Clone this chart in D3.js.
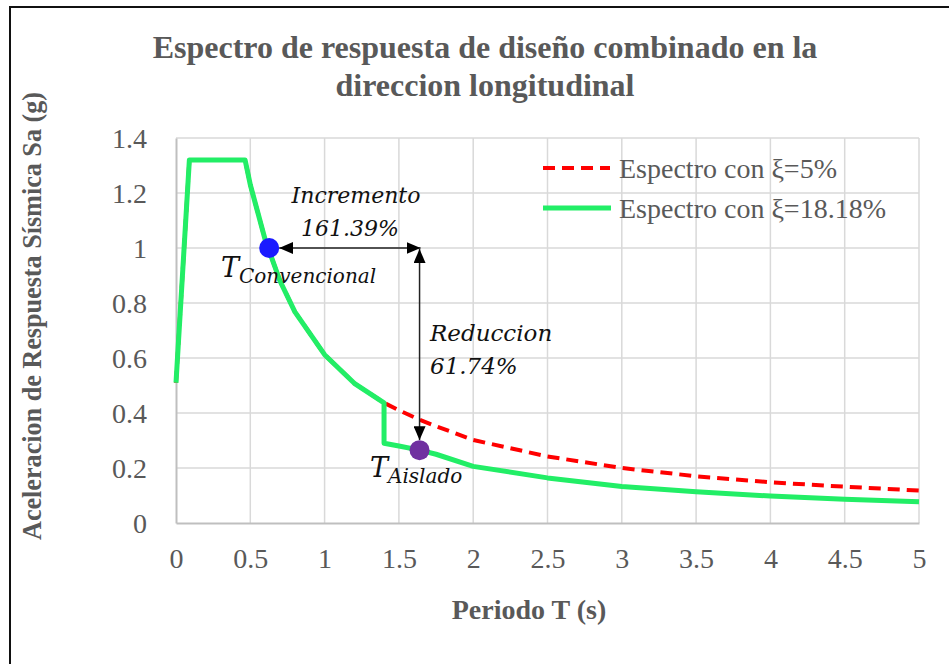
<!DOCTYPE html>
<html>
<head>
<meta charset="utf-8">
<script src="https://cdn.jsdelivr.net/npm/d3@7"></script>
<style>
  html, body { margin: 0; padding: 0; background: #fff; }
  svg { display: block; }
</style>
</head>
<body>
<svg id="chart" width="949" height="664"></svg>
<script>
// Periods (s) and spectral accelerations (g)
const periodsDamped = [0, 0.09, 0.465, 0.5, 0.6, 0.7, 0.8, 1.0, 1.2, 1.4, 1.4, 1.5, 1.64, 1.75, 2.0, 2.5, 3.0, 3.5, 4.0, 4.5, 5.0];
const saDamped = [0.51, 1.32, 1.32, 1.23, 1.03, 0.88, 0.768, 0.612, 0.508, 0.437, 0.29, 0.28, 0.265, 0.25, 0.206, 0.164, 0.133, 0.114, 0.098, 0.086, 0.077];

const periods5 = [0, 0.09, 0.465, 0.5, 0.6, 0.7, 0.8, 1.0, 1.2, 1.4, 1.5, 1.64, 1.75, 2.0, 2.5, 3.0, 3.5, 4.0, 4.5, 5.0];
const sa5 = [0.51, 1.32, 1.32, 1.23, 1.03, 0.88, 0.768, 0.612, 0.508, 0.437, 0.41, 0.375, 0.352, 0.302, 0.242, 0.2, 0.17, 0.148, 0.132, 0.118];

const xTicks = [0, 0.5, 1, 1.5, 2, 2.5, 3, 3.5, 4, 4.5, 5];
const yTicks = [0, 0.2, 0.4, 0.6, 0.8, 1.0, 1.2, 1.4];

const seriesNames = ["Espectro con ξ=5%", "Espectro con ξ=18.18%"];
const titleLines = ["Espectro de respuesta de diseño combinado en la", "direccion longitudinal"];

// Characteristic periods: conventional (fixed base) and isolated structure
const tConv = [0.627, 1.0];
const tIso = [1.639, 0.265];

const svg = d3.select("#chart");
const grey = "#595959";
const serif = "'Liberation Serif', 'Times New Roman', serif";
const mathItalic = "'DejaVu Serif', serif";

const x = d3.scaleLinear().domain([0, 5]).range([176, 919]);
const y = d3.scaleLinear().domain([0, 1.4]).range([523, 138]);

// Outer frame
svg.append("rect").attr("x", 10).attr("y", 7).attr("width", 960).attr("height", 680)
  .attr("fill", "none").attr("stroke", "#111").attr("stroke-width", 2);

// Title
svg.append("text").attr("x", 485).attr("y", 0)
  .attr("text-anchor", "middle").attr("font-family", serif).attr("font-weight", "bold")
  .attr("font-size", 32).attr("fill", grey)
  .selectAll("tspan").data(titleLines).join("tspan")
  .attr("x", 485).attr("y", (d, i) => 58 + i * 38).text(d => d);

// Grid
svg.append("g").selectAll("line").data(xTicks.slice(1)).join("line")
  .attr("x1", d => x(d)).attr("x2", d => x(d)).attr("y1", y(1.4)).attr("y2", y(0))
  .attr("stroke", "#d9d9d9").attr("stroke-width", 1.5);
svg.append("g").selectAll("line").data(yTicks.slice(1)).join("line")
  .attr("x1", x(0)).attr("x2", x(5)).attr("y1", d => y(d)).attr("y2", d => y(d))
  .attr("stroke", "#d9d9d9").attr("stroke-width", 1.5);

// Axes
const xAxis = svg.append("g").attr("transform", `translate(0,${y(0)})`)
  .call(d3.axisBottom(x).tickValues(xTicks).tickSize(0).tickPadding(25).tickFormat(d3.format("")));
const yAxis = svg.append("g").attr("transform", `translate(${x(0)},0)`)
  .call(d3.axisLeft(y).tickValues(yTicks).tickSize(0).tickPadding(29).tickFormat(d3.format("")));
[xAxis, yAxis].forEach(g => {
  g.attr("font-family", serif);
  g.select(".domain").attr("stroke", "#bfbfbf").attr("stroke-width", 2);
  g.selectAll("text").attr("font-family", serif).attr("font-size", 28).attr("fill", grey);
});
xAxis.selectAll("text").attr("dy", "0.71em");
yAxis.selectAll("text").attr("dy", "0.34em");

// Axis titles
svg.append("text").attr("x", 529).attr("y", 619).attr("text-anchor", "middle")
  .attr("font-family", serif).attr("font-weight", "bold").attr("font-size", 28).attr("fill", grey)
  .text("Periodo T (s)");
svg.append("text").attr("transform", "translate(41,316) rotate(-90)").attr("text-anchor", "middle")
  .attr("font-family", serif).attr("font-weight", "bold").attr("font-size", 27).attr("fill", grey)
  .attr("textLength", 448).attr("lengthAdjust", "spacingAndGlyphs")
  .text("Aceleracion de Respuesta Sísmica Sa (g)");

// Spectra
const line = d3.line().x(d => x(d[0])).y(d => y(d[1]));
svg.append("path").datum(d3.zip(periods5, sa5)).attr("d", line)
  .attr("fill", "none").attr("stroke", "#ff0000").attr("stroke-width", 4)
  .attr("stroke-dasharray", "12,7");
svg.append("path").datum(d3.zip(periodsDamped, saDamped)).attr("d", line)
  .attr("fill", "none").attr("stroke", "#22ee66").attr("stroke-width", 5)
  .attr("stroke-linejoin", "round");

// Arrow markers
const defs = svg.append("defs");
defs.append("marker").attr("id", "head").attr("viewBox", "0 0 14 12")
  .attr("refX", 14).attr("refY", 6).attr("markerWidth", 14).attr("markerHeight", 12)
  .attr("markerUnits", "userSpaceOnUse").attr("orient", "auto-start-reverse")
  .append("path").attr("d", "M0,0 L14,6 L0,12 Z").attr("fill", "#000");

const r = 10;
svg.append("line")
  .attr("x1", x(tConv[0]) + r).attr("y1", y(tConv[1]))
  .attr("x2", x(tIso[0]) + 1).attr("y2", y(tConv[1]))
  .attr("stroke", "#222").attr("stroke-width", 1.5)
  .attr("marker-start", "url(#head)").attr("marker-end", "url(#head)");
svg.append("line")
  .attr("x1", x(tIso[0])).attr("y1", y(tConv[1]) + 1)
  .attr("x2", x(tIso[0])).attr("y2", y(tIso[1]) - r)
  .attr("stroke", "#222").attr("stroke-width", 1.5)
  .attr("marker-start", "url(#head)").attr("marker-end", "url(#head)");

// Characteristic points
svg.append("circle").attr("cx", x(tConv[0])).attr("cy", y(tConv[1])).attr("r", r).attr("fill", "#1a1aff");
svg.append("circle").attr("cx", x(tIso[0])).attr("cy", y(tIso[1])).attr("r", r).attr("fill", "#7030a0");

// Annotations
const note = (tx, ty, str, size) => svg.append("text").attr("x", tx).attr("y", ty)
  .attr("font-family", mathItalic).attr("font-style", "italic").attr("font-size", size)
  .attr("fill", "#111").text(str);
note(356, 203, "Incremento", 22).attr("text-anchor", "middle");
note(350, 236, "161.39%", 22).attr("text-anchor", "middle");
note(430, 341, "Reduccion", 23);
note(430, 374, "61.74%", 23);

const sub = (tx, ty, main, s) => {
  const t = svg.append("text").attr("x", tx).attr("y", ty)
    .attr("font-family", mathItalic).attr("font-style", "italic").attr("fill", "#111");
  t.append("tspan").attr("font-size", 27).text(main);
  t.append("tspan").attr("font-size", 20).attr("dy", 6).text(s);
};
sub(221, 277, "T", "Convencional");
sub(370, 477, "T", "Aislado");

// Legend
const legend = svg.append("g");
const legendY = [168, 208];
legend.append("line").attr("x1", 543).attr("x2", 610).attr("y1", legendY[0]).attr("y2", legendY[0])
  .attr("stroke", "#ff0000").attr("stroke-width", 4).attr("stroke-dasharray", "12,7");
legend.append("line").attr("x1", 543).attr("x2", 611).attr("y1", legendY[1]).attr("y2", legendY[1])
  .attr("stroke", "#22ee66").attr("stroke-width", 5);
legend.selectAll("text").data(seriesNames).join("text")
  .attr("x", 619).attr("y", (d, i) => legendY[i]).attr("dy", "0.34em")
  .attr("font-family", serif).attr("font-size", 28).attr("fill", grey).text(d => d);
</script>
</body>
</html>
